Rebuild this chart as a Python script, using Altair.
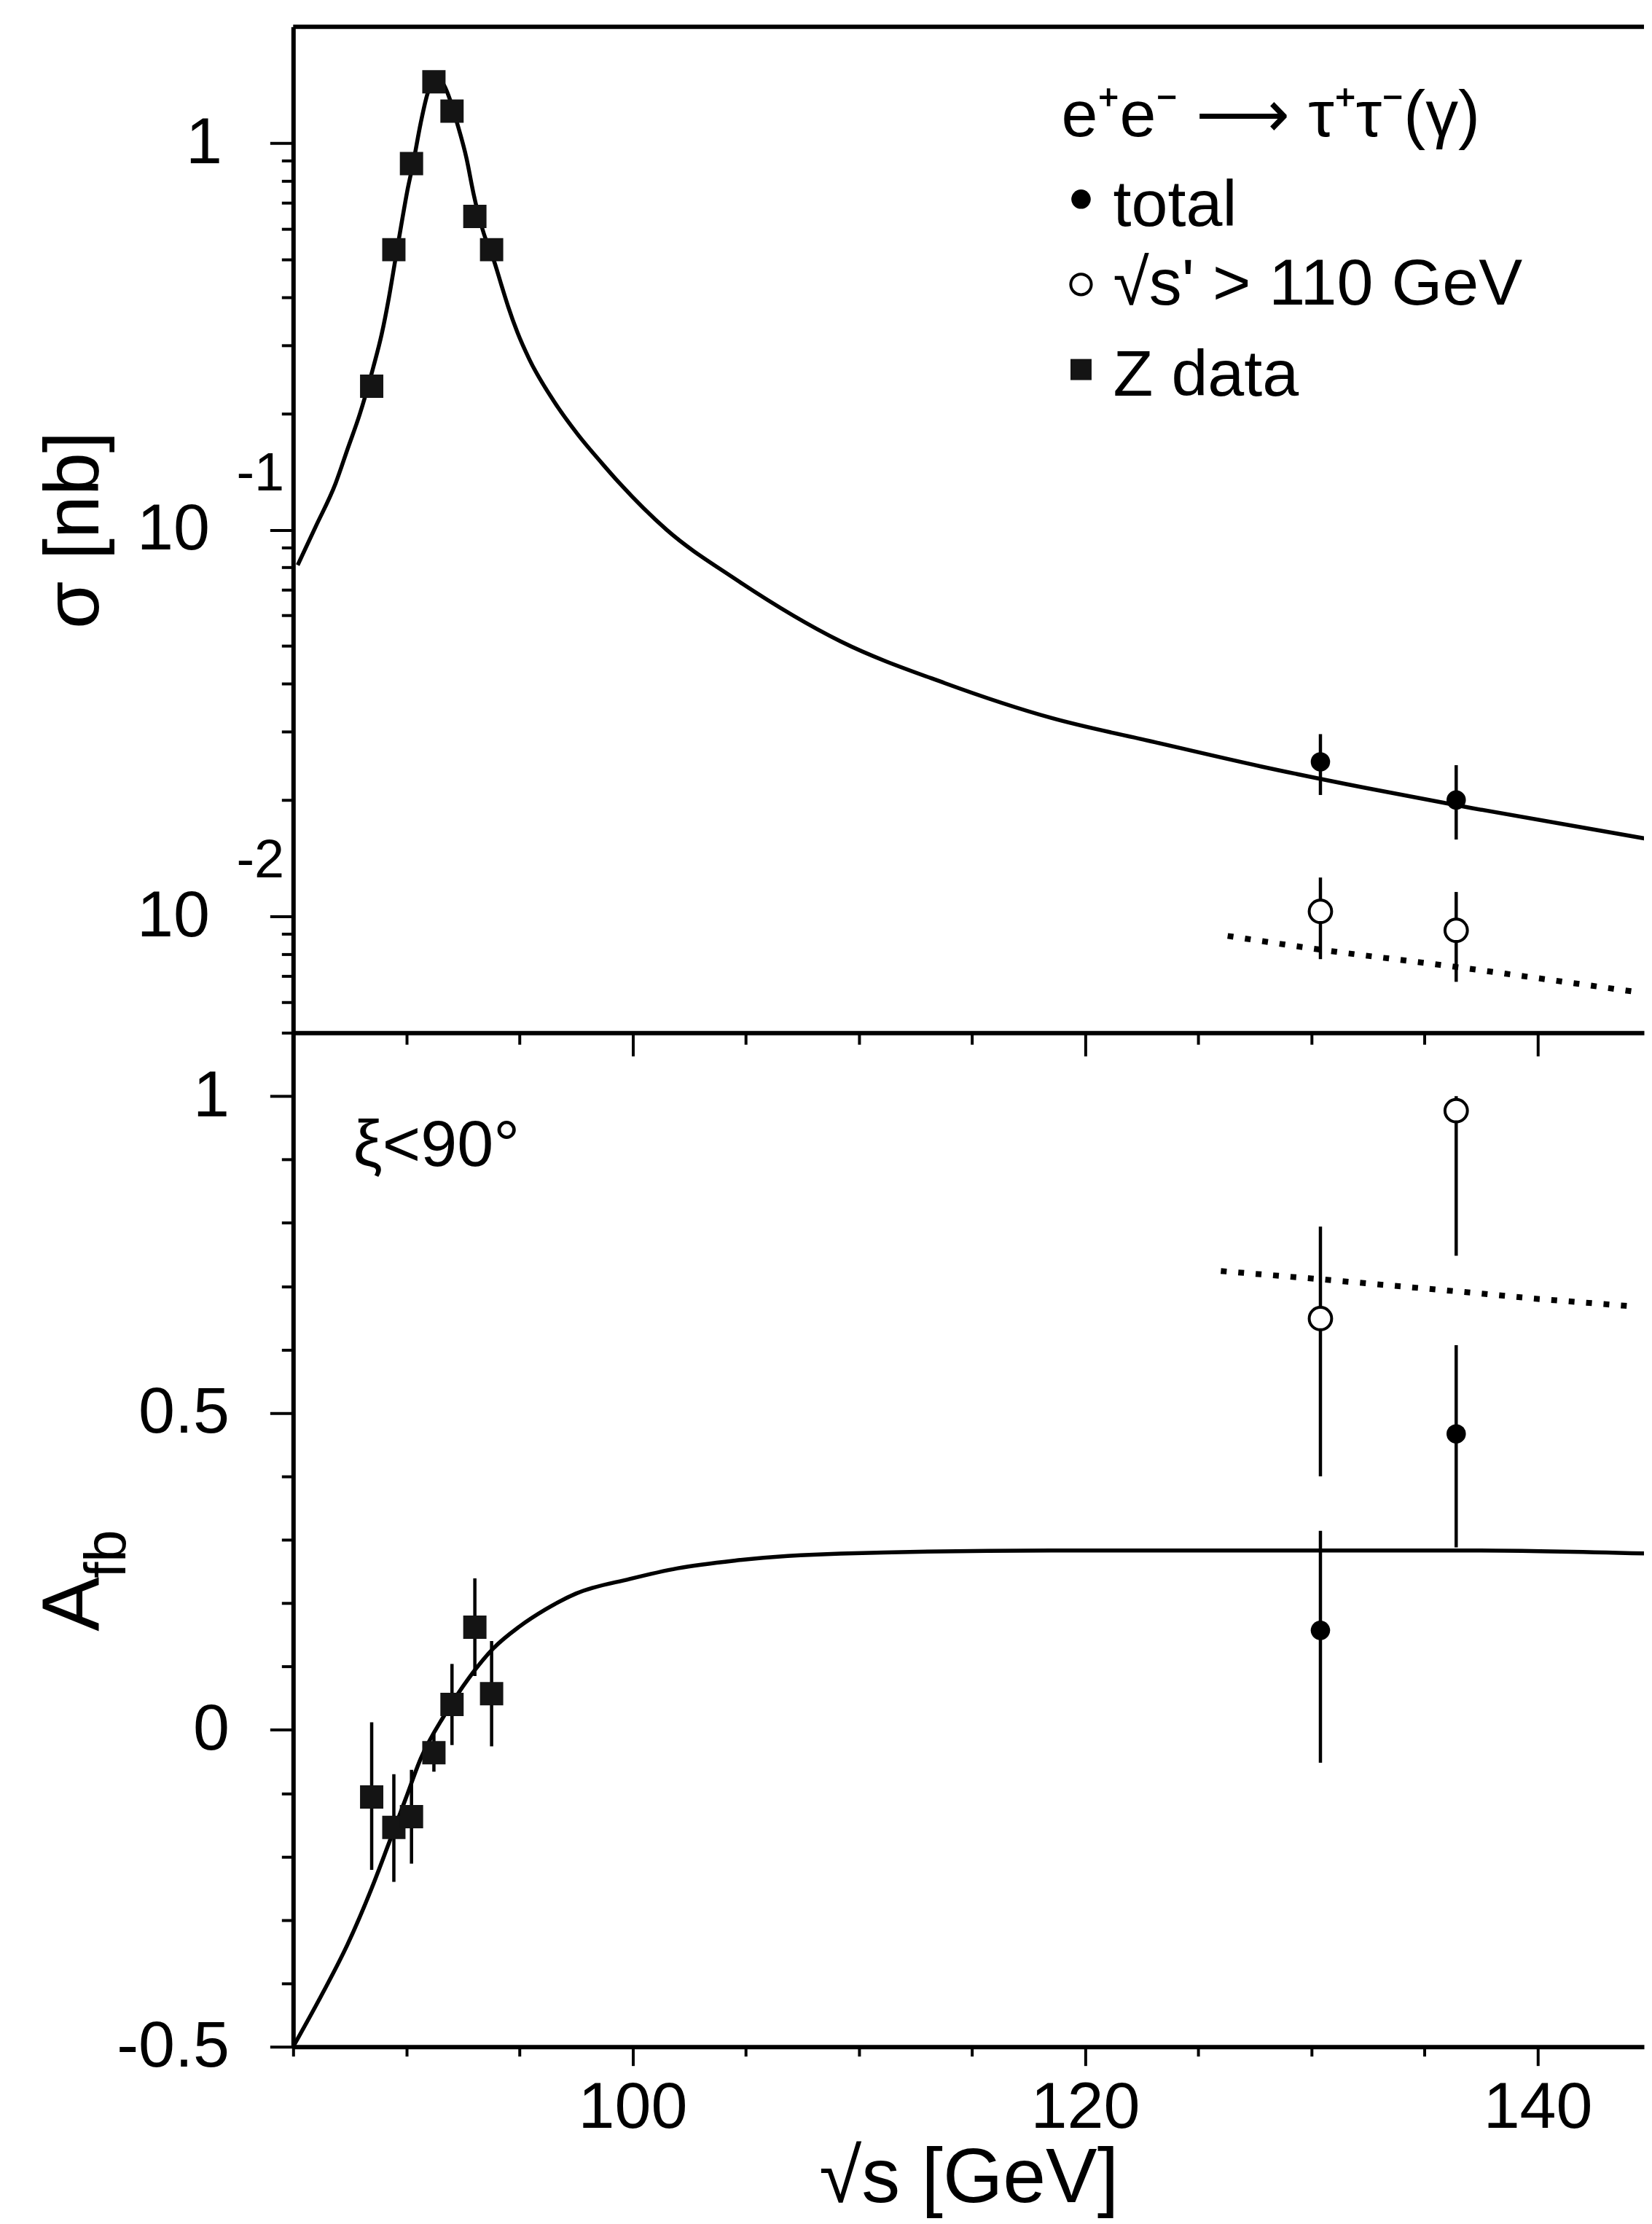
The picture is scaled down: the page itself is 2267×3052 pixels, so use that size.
import altair as alt
import pandas as pd

FONT = "Liberation Sans"
X_MIN, X_MAX = 85, 144.7
W = 1857
H_TOP = 1383
H_BOT = 1394

# --- top panel: cross section sigma [nb] ---
sig_fit_x = [85.2, 86.0, 86.88, 87.41, 87.95, 88.54, 88.91, 89.23, 89.52, 89.77, 90.04, 90.31,
             90.63, 90.95, 91.3, 91.6, 92.0, 92.23, 92.66, 92.98, 93.3, 93.6, 93.84, 94.2, 94.5,
             94.91, 95.45, 96.52, 97.59, 98.67, 99.42, 101.5, 104.5, 109.2, 113.8, 118.5,
             123.1, 127.8, 132.4, 137.1, 145.0]
sig_fit_y = [0.081, 0.102, 0.132, 0.162, 0.1995, 0.263, 0.320, 0.398, 0.501, 0.610, 0.750, 0.891,
             1.122, 1.349, 1.462, 1.43, 1.26, 1.135, 0.914, 0.736, 0.617, 0.545, 0.503, 0.430, 0.378,
             0.324, 0.275, 0.215, 0.176, 0.148, 0.132, 0.100, 0.0748, 0.0514, 0.0401, 0.0326,
             0.0282, 0.0244, 0.02148, 0.01905, 0.0158]
sig_cut_x = [126.3, 130.4, 136.3, 140.0, 144.3]
sig_cut_y = [0.0089, 0.0082, 0.00741, 0.00692, 0.00638]

z_x = [88.47, 89.45, 90.23, 91.22, 92.02, 93.03, 93.77]
z_sigma = [0.235, 0.530, 0.885, 1.44, 1.21, 0.646, 0.530]

hi_x = [130.4, 136.4]
tot_sigma = [0.0251, 0.0200]
tot_sigma_lo = [0.0206, 0.0158]
tot_sigma_hi = [0.0296, 0.0246]
cut_sigma = [0.0103, 0.0092]
cut_sigma_lo = [0.00775, 0.00677]
cut_sigma_hi = [0.0126, 0.01156]

# --- bottom panel: forward-backward asymmetry ---
afb_fit_x = [85.0, 86.34, 87.41, 88.48, 89.23, 89.98, 90.63, 91.70, 92.77, 93.83, 95.0, 96.15,
             97.5, 99.87, 102.0, 104.5, 109.2, 118.5, 137.1, 145.0]
afb_fit_y = [-0.50, -0.413, -0.338, -0.249, -0.179, -0.108, -0.046, 0.024, 0.082, 0.128, 0.163,
             0.190, 0.215, 0.238, 0.255, 0.267, 0.278, 0.283, 0.283, 0.278]
afb_cut_x = [126.0, 130.4, 136.4, 140.0, 144.3]
afb_cut_y = [0.724, 0.711, 0.692, 0.680, 0.668]

z_afb = [-0.106, -0.154, -0.137, -0.036, 0.040, 0.162, 0.057]
z_afb_lo = [-0.221, -0.240, -0.211, -0.066, -0.024, 0.085, -0.026]
z_afb_hi = [0.012, -0.070, -0.063, -0.006, 0.104, 0.239, 0.140]

tot_afb = [0.157, 0.467]
tot_afb_lo = [-0.052, 0.288]
tot_afb_hi = [0.314, 0.607]
cut_afb = [0.649, 0.977]
cut_afb_lo = [0.400, 0.748]
cut_afb_hi = [0.794, 1.0]

# --- ticks and labels ---
x_ticks = list(range(85, 145, 5))
x_labels = {100: "100", 120: "120", 140: "140"}
sig_ticks = [m * 10.0 ** e for e in (-3, -2, -1, 0) for m in range(1, 10)
             if 0.005 <= m * 10.0 ** e < 2]
sig_major = {1: "1", 0.1: "10", 0.01: "10"}
sig_exp_y = [0.1, 0.01]
sig_exp_txt = ["-1", "-2"]
afb_ticks = [round(-0.5 + 0.1 * i, 1) for i in range(16)]
afb_major = {1: "1", 0.5: "0.5", 0: "0", -0.5: "-0.5"}

# --- legend / annotations ---
leg_txt = ["e⁺e⁻ ⟶ τ⁺τ⁻(γ)", "total", "√s' > 110 GeV", "Z data"]
leg_txt_x = [118.95, 121.24, 121.24, 121.24]
leg_txt_y = [1.04, 0.610, 0.382, 0.222]
leg_mark_x = 119.82
leg_mark_y = [0.716, 0.431, 0.2596]
angle_txt, angle_x, angle_y = "ξ<90°", 87.65, 0.89


def label_expr(mapping):
    parts = [f"datum.value == {k} ? '{v}'" for k, v in mapping.items()]
    return " : ".join(parts) + " : ''"


def major_test(keys):
    return " || ".join(f"datum.value == {k}" for k in keys)


xs = alt.Scale(domain=[X_MIN, X_MAX], nice=False, zero=False)
ys_top = alt.Scale(type="log", domain=[0.005, 2], nice=False)
ys_bot = alt.Scale(domain=[-0.5, 1.1], nice=False, zero=False)

x_top_axis = alt.Axis(values=x_ticks, labels=False, title=None, grid=False,
                      tickSize={"condition": {"test": "datum.value % 20 == 0", "value": 32}, "value": 16})
x_bot_axis = alt.Axis(values=x_ticks, labelExpr=label_expr(x_labels), grid=False,
                      labelOverlap=False, labelPadding=14, titlePadding=0,
                      tickSize={"condition": {"test": "datum.value % 20 == 0", "value": 26}, "value": 13})
y_top_axis = alt.Axis(values=sig_ticks, labelExpr=label_expr(sig_major), grid=False,
                      labelOverlap=False, title="σ [nb]", titleAngle=270, titleX=-300,
                      titleBaseline="middle",
                      tickSize={"condition": {"test": major_test(sig_major), "value": 32}, "value": 16},
                      labelPadding={"condition": {"test": "datum.value == 1", "value": 66}, "value": 83})
y_bot_axis = alt.Axis(values=afb_ticks, labelExpr=label_expr(afb_major), grid=False,
                      labelOverlap=False, title=None, labelPadding=56,
                      tickSize={"condition": {"test": major_test(afb_major), "value": 32}, "value": 16})

X_TOP = alt.X("x:Q", scale=xs, axis=x_top_axis)
X_BOT = alt.X("x:Q", scale=xs, axis=x_bot_axis, title="√s [GeV]")


def df(**cols):
    return pd.DataFrame(cols)


# ---------- top panel ----------
sig_fit = alt.Chart(df(x=sig_fit_x, y=sig_fit_y)).mark_line(
    color="black", strokeWidth=5.5, clip=True, interpolate="monotone").encode(
    x=X_TOP, y=alt.Y("y:Q", scale=ys_top, axis=y_top_axis))
sig_cut = alt.Chart(df(x=sig_cut_x, y=sig_cut_y)).mark_line(
    color="black", strokeWidth=8, strokeDash=[8, 16], clip=True, interpolate="monotone").encode(
    x="x:Q", y="y:Q")
sig_err = alt.Chart(df(x=hi_x * 2, lo=tot_sigma_lo + cut_sigma_lo, hi=tot_sigma_hi + cut_sigma_hi)).mark_rule(
    color="black", strokeWidth=4.5).encode(x="x:Q", y="lo:Q", y2="hi:Q")
sig_z = alt.Chart(df(x=z_x, y=z_sigma)).mark_square(
    color="#141414", size=1024, opacity=1).encode(x="x:Q", y="y:Q")
sig_tot = alt.Chart(df(x=hi_x, y=tot_sigma)).mark_point(
    shape="circle", filled=True, color="black", size=707, opacity=1).encode(x="x:Q", y="y:Q")
sig_open = alt.Chart(df(x=hi_x, y=cut_sigma)).mark_point(
    shape="circle", filled=True, fill="white", stroke="black", strokeWidth=4, size=950,
    opacity=1).encode(x="x:Q", y="y:Q")
frame_top = alt.Chart(df(a=[0])).mark_rule(color="black", strokeWidth=6).encode(y=alt.value(0))
sig_exp = alt.Chart(df(x=[X_MIN] * 2, y=sig_exp_y, t=sig_exp_txt)).mark_text(
    font=FONT, fontSize=74, align="left", baseline="middle", dx=-78, dy=-76, color="black").encode(
    x="x:Q", y="y:Q", text="t:N")
leg_text = alt.Chart(df(x=leg_txt_x, y=leg_txt_y, t=leg_txt)).mark_text(
    font=FONT, fontSize=90, align="left", baseline="alphabetic", color="black").encode(
    x="x:Q", y="y:Q", text="t:N")
leg_tot = alt.Chart(df(x=[leg_mark_x], y=[leg_mark_y[0]])).mark_point(
    shape="circle", filled=True, color="black", size=707, opacity=1).encode(x="x:Q", y="y:Q")
leg_open = alt.Chart(df(x=[leg_mark_x], y=[leg_mark_y[1]])).mark_point(
    shape="circle", filled=True, fill="white", stroke="black", strokeWidth=4, size=800,
    opacity=1).encode(x="x:Q", y="y:Q")
leg_z = alt.Chart(df(x=[leg_mark_x], y=[leg_mark_y[2]])).mark_square(
    color="#141414", size=840, opacity=1).encode(x="x:Q", y="y:Q")

top = alt.layer(sig_fit, sig_cut, sig_err, sig_z, sig_tot, sig_open, frame_top, sig_exp,
                leg_text, leg_tot, leg_open, leg_z).properties(width=W, height=H_TOP)

# ---------- bottom panel ----------
afb_fit = alt.Chart(df(x=afb_fit_x, y=afb_fit_y)).mark_line(
    color="black", strokeWidth=5.5, clip=True, interpolate="monotone").encode(
    x=X_BOT, y=alt.Y("y:Q", scale=ys_bot, axis=y_bot_axis))
afb_cut = alt.Chart(df(x=afb_cut_x, y=afb_cut_y)).mark_line(
    color="black", strokeWidth=8, strokeDash=[8, 16], clip=True).encode(x="x:Q", y="y:Q")
afb_err = alt.Chart(df(x=z_x + hi_x * 2, lo=z_afb_lo + tot_afb_lo + cut_afb_lo,
                       hi=z_afb_hi + tot_afb_hi + cut_afb_hi)).mark_rule(
    color="black", strokeWidth=4.5).encode(x="x:Q", y="lo:Q", y2="hi:Q")
afb_z = alt.Chart(df(x=z_x, y=z_afb)).mark_square(
    color="#141414", size=1024, opacity=1).encode(x="x:Q", y="y:Q")
afb_tot = alt.Chart(df(x=hi_x, y=tot_afb)).mark_point(
    shape="circle", filled=True, color="black", size=707, opacity=1).encode(x="x:Q", y="y:Q")
afb_open = alt.Chart(df(x=hi_x, y=cut_afb)).mark_point(
    shape="circle", filled=True, fill="white", stroke="black", strokeWidth=4, size=950,
    opacity=1).encode(x="x:Q", y="y:Q")
angle_note = alt.Chart(df(x=[angle_x], y=[angle_y], t=[angle_txt])).mark_text(
    font=FONT, fontSize=90, align="left", baseline="alphabetic", color="black").encode(
    x="x:Q", y="y:Q", text="t:N")
afb_title_a = alt.Chart(df(t=["A"])).mark_text(
    font=FONT, fontSize=112, angle=270, align="left", baseline="alphabetic", color="black").encode(
    x=alt.value(-268), y=alt.value(823), text="t:N")
afb_title_fb = alt.Chart(df(t=["fb"])).mark_text(
    font=FONT, fontSize=80, angle=270, align="left", baseline="alphabetic", color="black").encode(
    x=alt.value(-231), y=alt.value(750), text="t:N")

bottom = alt.layer(afb_fit, afb_cut, afb_err, afb_z, afb_tot, afb_open, angle_note,
                   afb_title_a, afb_title_fb).properties(width=W, height=H_BOT)

chart = alt.vconcat(top, bottom, spacing=0, bounds="flush").properties(
    padding={"left": 37, "top": 23, "right": 0, "bottom": 0}, background="white"
).configure_view(strokeWidth=0).configure_axis(
    labelFont=FONT, labelFontSize=90, labelColor="black",
    titleFont=FONT, titleFontSize=106, titleFontWeight="normal", titleColor="black",
    domainColor="black", domainWidth=6, tickColor="black", tickWidth=4,
)

chart.save("out.html", embed_options={"renderer": "svg", "actions": False})
